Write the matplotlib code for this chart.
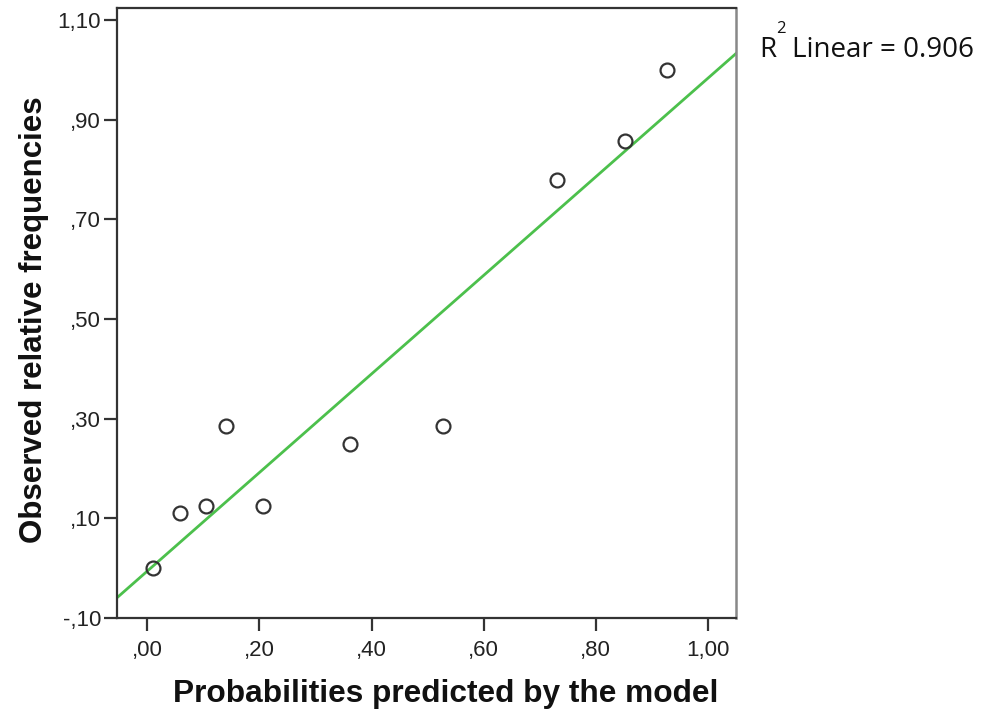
import numpy as np
import matplotlib
matplotlib.use("Agg")
import matplotlib.pyplot as plt

# Data
predicted = [0.011, 0.059, 0.105, 0.141, 0.207, 0.361, 0.527, 0.730, 0.852, 0.927]
observed = [0.000, 0.111, 0.125, 0.286, 0.125, 0.250, 0.286, 0.778, 0.857, 1.000]
x_ticks = [0.0, 0.2, 0.4, 0.6, 0.8, 1.0]
x_tick_labels = [",00", ",20", ",40", ",60", ",80", "1,00"]
y_ticks = [-0.1, 0.1, 0.3, 0.5, 0.7, 0.9, 1.1]
y_tick_labels = ["-,10", ",10", ",30", ",50", ",70", ",90", "1,10"]
r2_value = "0.906"

W, H = 981, 715
fig = plt.figure(figsize=(W / 100, H / 100), dpi=100)
left, right, top, bottom = 117, 736, 8, 618
ax = fig.add_axes([left / W, 1 - bottom / H, (right - left) / W, (bottom - top) / H])

xlim = (-0.054, 1.05)
ylim = (-0.10, 1.124)
ax.set_xlim(*xlim)
ax.set_ylim(*ylim)

# Fit line
slope, intercept = np.polyfit(predicted, observed, 1)
xs = np.array(xlim)
ax.plot(xs, slope * xs + intercept, color="#4cc04c", lw=2.0, zorder=2)

ax.plot(predicted, observed, linestyle="none", marker="o", markersize=10,
        markerfacecolor="none", markeredgecolor="#333333", markeredgewidth=1.6, zorder=3)

ax.set_xticks(x_ticks)
ax.set_xticklabels(x_tick_labels, fontfamily="Liberation Sans", fontsize=16, color="#222222")
ax.set_yticks(y_ticks)
ax.set_yticklabels(y_tick_labels, fontfamily="Liberation Sans", fontsize=16, color="#222222")

ax.tick_params(axis="both", direction="out", length=9.5, width=1.6, color="#333333", pad=2)
ax.tick_params(axis="x", pad=6)

for s in ["left", "bottom", "top"]:
    ax.spines[s].set_color("#333333")
    ax.spines[s].set_linewidth(1.6)
ax.spines["right"].set_color("#888888")
ax.spines["right"].set_linewidth(1.8)

ax.set_xlabel("Probabilities predicted by the model", fontfamily="Liberation Sans",
              fontweight="bold", fontsize=22.8, labelpad=13, color="#111111")
ax.xaxis.label.set_x(0.5315)
ax.set_ylabel("Observed relative frequencies", fontfamily="Liberation Sans",
              fontweight="bold", fontsize=22.5, labelpad=6, color="#111111")
ax.yaxis.label.set_y(0.489)

fs = 20
fig.text(759 / W, 1 - 57 / H, "R", fontfamily="Open Sans", fontsize=fs,
         va="baseline", ha="left", color="#111111")
fig.text(776 / W, 1 - 33 / H, "2", fontfamily="Open Sans", fontsize=12,
         va="baseline", ha="left", color="#111111")
fig.text(792 / W, 1 - 57 / H, "Linear = " + r2_value, fontfamily="Open Sans", fontsize=fs,
         va="baseline", ha="left", color="#111111")

fig.savefig("out.png", dpi=100)
